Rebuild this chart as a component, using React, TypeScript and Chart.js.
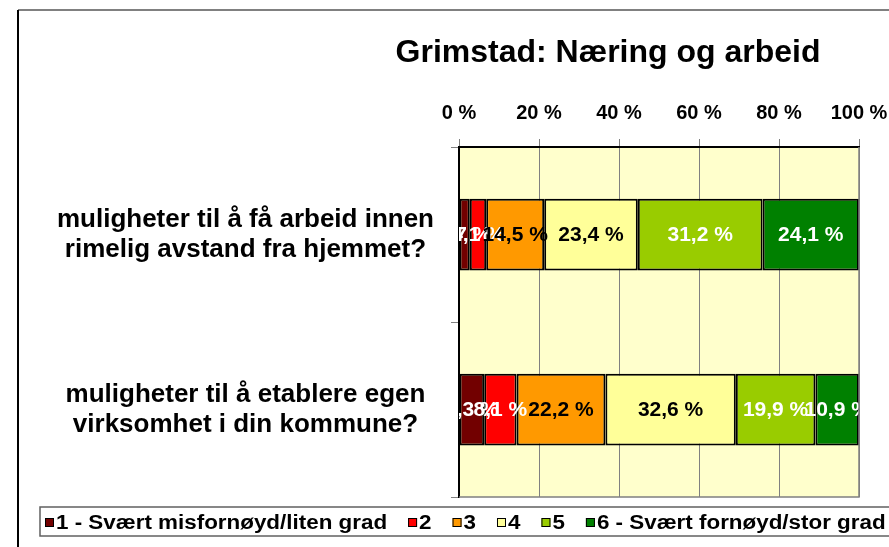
import React, { useEffect, useRef } from "react";
import { Chart, registerables } from "chart.js";

Chart.register(...registerables);

const TITLE = "Grimstad: Næring og arbeid";
const categories: string[][] = [
  ["muligheter til å få arbeid innen", "rimelig avstand fra hjemmet?"],
  ["muligheter til å etablere egen", "virksomhet i din kommune?"],
];
const seriesNames = [
  "1 - Svært misfornøyd/liten grad",
  "2",
  "3",
  "4",
  "5",
  "6 - Svært fornøyd/stor grad",
];
const s1 = [2.7, 6.3];
const s2 = [4.1, 8.1];
const s3 = [14.5, 22.2];
const s4 = [23.4, 32.6];
const s5 = [31.2, 19.9];
const s6 = [24.1, 10.9];
const seriesValues = [s1, s2, s3, s4, s5, s6];
const seriesColors = ["#720000", "#FF0000", "#FF9900", "#FFFF99", "#99CC00", "#008000"];
const labelColors = ["#FFFFFF", "#FFFFFF", "#000000", "#000000", "#FFFFFF", "#FFFFFF"];
const xTicks = [0, 20, 40, 60, 80, 100];

const FONT = '"Liberation Sans", Arial, sans-serif';

const fmt = (v: number) => v.toFixed(1).replace(".", ",") + " %";

const decorPlugin = {
  id: "decor",
  beforeDraw(chart: any) {
    const { ctx, chartArea: a, width, height } = chart;
    ctx.save();
    ctx.fillStyle = "#FFFFFF";
    ctx.fillRect(0, 0, width, height);
    // outer frame
    ctx.strokeStyle = "#808080";
    ctx.lineWidth = 2;
    ctx.beginPath();
    ctx.moveTo(18, 10);
    ctx.lineTo(width, 10);
    ctx.stroke();
    ctx.strokeStyle = "#000000";
    ctx.beginPath();
    ctx.moveTo(18, 10);
    ctx.lineTo(18, height);
    ctx.stroke();
    // plot background
    ctx.fillStyle = "#FFFFCC";
    ctx.fillRect(a.left, a.top, a.right - a.left, a.bottom - a.top);
    ctx.restore();
  },
  afterDatasetsDraw(chart: any) {
    const { ctx, chartArea: a } = chart;
    ctx.save();
    ctx.beginPath();
    ctx.rect(a.left, a.top, a.right - a.left, a.bottom - a.top);
    ctx.clip();
    ctx.font = `bold 21px ${FONT}`;
    ctx.textAlign = "center";
    ctx.textBaseline = "middle";
    chart.data.datasets.forEach((ds: any, di: number) => {
      const meta = chart.getDatasetMeta(di);
      meta.data.forEach((bar: any, i: number) => {
        const v = ds.data[i];
        const cx = (bar.x + bar.base) / 2;
        ctx.fillStyle = labelColors[di];
        ctx.fillText(fmt(v), cx, bar.y + 1);
      });
    });
    ctx.restore();
  },
  afterDraw(chart: any) {
    const { ctx, chartArea: a, width } = chart;
    ctx.save();
    // plot border bottom / right
    ctx.strokeStyle = "#808080";
    ctx.lineWidth = 1.5;
    ctx.beginPath();
    ctx.moveTo(a.left, a.bottom);
    ctx.lineTo(a.right, a.bottom);
    ctx.lineTo(a.right, a.top);
    ctx.stroke();
    // title
    ctx.fillStyle = "#000000";
    ctx.font = `bold 32px ${FONT}`;
    ctx.textAlign = "center";
    ctx.textBaseline = "middle";
    ctx.fillText(TITLE, 608, 53);
    // legend
    ctx.strokeStyle = "#606060";
    ctx.lineWidth = 1.5;
    ctx.strokeRect(40, 507, width, 29);
    ctx.font = `bold 20px ${FONT}`;
    ctx.textAlign = "left";
    const sx = 1.12;
    let x = 45;
    chart.data.datasets.forEach((ds: any) => {
      ctx.fillStyle = ds.backgroundColor;
      ctx.fillRect(x, 518, 9, 9);
      ctx.strokeStyle = "#000000";
      ctx.lineWidth = 1;
      ctx.strokeRect(x + 0.5, 518.5, 8, 8);
      x += 11;
      ctx.fillStyle = "#000000";
      ctx.save();
      ctx.translate(x, 523);
      ctx.scale(sx, 1);
      ctx.fillText(ds.label, 0, 0);
      ctx.restore();
      x += ctx.measureText(ds.label).width * sx + 21;
    });
    ctx.restore();
  },
};

export default function App() {
  const ref = useRef<HTMLCanvasElement | null>(null);
  useEffect(() => {
    if (!ref.current) return;
    const chart = new Chart(ref.current, {
      type: "bar",
      data: {
        labels: categories,
        datasets: seriesNames.map((name, i) => ({
          label: name,
          data: seriesValues[i],
          backgroundColor: seriesColors[i],
          borderColor: "#000000",
          borderWidth: 2,
          borderSkipped: false,
          categoryPercentage: 1,
          barPercentage: 0.41,
        })),
      },
      options: {
        indexAxis: "y",
        responsive: false,
        animation: false,
        devicePixelRatio: 1,
        layout: { padding: { left: 0, right: 30, top: 90, bottom: 50 } },
        plugins: {
          legend: { display: false },
          title: { display: false },
          tooltip: { enabled: false },
        },
        scales: {
          x: {
            position: "top",
            stacked: true,
            min: 0,
            max: 100,
            afterBuildTicks: (scale: any) => {
              scale.ticks = xTicks.map((v) => ({ value: v }));
            },
            afterFit: (scale: any) => {
              scale.height = 57;
              scale.paddingLeft = 0;
              scale.paddingRight = 0;
            },
            ticks: {
              color: "#000000",
              font: { family: FONT, size: 20, weight: "bold" },
              padding: 14,
              callback: (v: any) => `${v} %`,
            },
            grid: {
              color: "#808080",
              lineWidth: 1,
              tickLength: 8,
              drawOnChartArea: true,
            },
            border: { color: "#000000", width: 2 },
          },
          y: {
            stacked: true,
            afterFit: (scale: any) => {
              scale.width = 459;
              scale.paddingTop = 0;
              scale.paddingBottom = 0;
            },
            ticks: {
              color: "#000000",
              font: { family: FONT, size: 26, weight: "bold", lineHeight: 1.15 },
              padding: 17,
              crossAlign: "center",
            },
            grid: {
              offset: true,
              drawOnChartArea: false,
              color: "#808080",
              tickLength: 8,
            },
            border: { color: "#000000", width: 2 },
          },
        },
      },
      plugins: [decorPlugin],
    } as any);
    return () => chart.destroy();
  }, []);
  return (
    <div style={{ position: "fixed", left: 0, top: 0, width: 889, height: 547 }}>
      <canvas ref={ref} width={889} height={547} />
    </div>
  );
}
